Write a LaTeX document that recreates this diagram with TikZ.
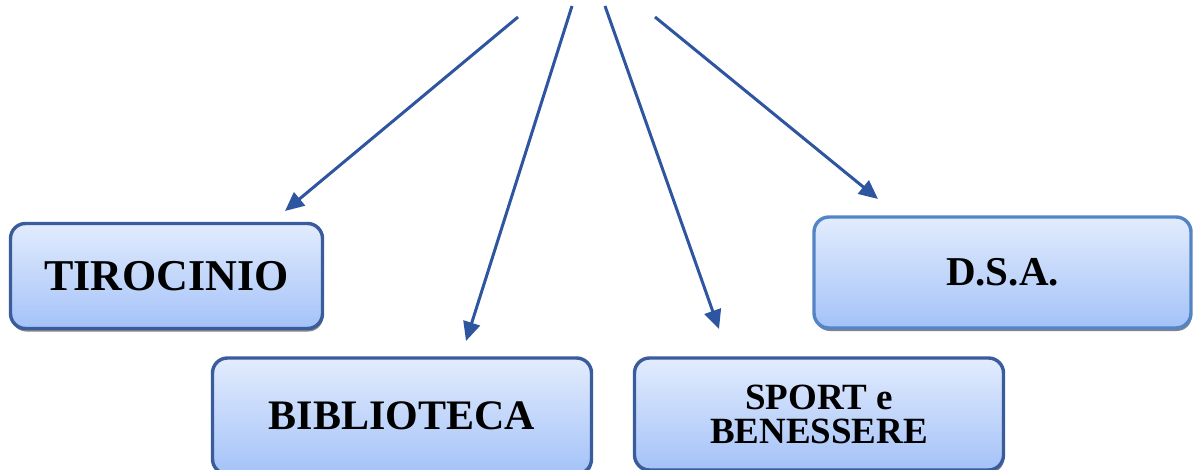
\documentclass[tikz,border=0pt]{standalone}
\usepackage{fontspec}
\setmainfont{Liberation Serif}
\usetikzlibrary{arrows.meta,shadows}
\definecolor{boxtop}{HTML}{E2ECFD}
\definecolor{boxbot}{HTML}{A4C2F8}
\definecolor{boxline}{HTML}{3A5C9C}
\definecolor{boxline2}{HTML}{5385C6}
\definecolor{arrowcol}{HTML}{2E55A0}
\tikzset{
  itembox/.style={draw=boxline, line width=3.4pt, rounded corners=15pt,
    top color=boxtop, bottom color=boxbot, align=center, inner sep=0pt,
    drop shadow={shadow xshift=0.8pt, shadow yshift=-3pt, fill=black!60, opacity=0.8},
    font=\bfseries},
  conn/.style={arrowcol, line width=3pt, -{Triangle[length=19pt,width=17pt]}}
}
\begin{document}
\begin{tikzpicture}[x=1pt,y=-1pt]
\useasboundingbox (0,0) rectangle (1193,470);
\node[itembox, minimum width=312pt, minimum height=105pt, font=\bfseries\fontsize{44}{44}\selectfont] (tiro) at (166.5,276) {TIROCINIO};
\node[itembox, minimum width=379pt, minimum height=116pt, font=\bfseries\fontsize{42}{42}\selectfont] (bib) at (402,416) {BIBLIOTECA};
\node[itembox, minimum width=369pt, minimum height=112pt, font=\bfseries\fontsize{37}{34}\selectfont] (sport) at (819,414) {\raisebox{0pt}{}SPORT e\\BENESSERE};
\node[itembox, draw=boxline2, minimum width=377pt, minimum height=111pt, font=\bfseries\fontsize{41}{41}\selectfont] (dsa) at (1002.5,272.5) {D.S.A.};
\coordinate (s1) at (518,17);
\coordinate (s2) at (572,6);
\coordinate (s3) at (605,6);
\coordinate (s4) at (655,17);
\coordinate (e1) at (285,211);
\coordinate (e2) at (466,341);
\coordinate (e3) at (719,329);
\coordinate (e4) at (878,199);
\draw[conn] (s1) -- (e1);
\draw[conn] (s2) -- (e2);
\draw[conn] (s3) -- (e3);
\draw[conn] (s4) -- (e4);
\end{tikzpicture}
\end{document}
